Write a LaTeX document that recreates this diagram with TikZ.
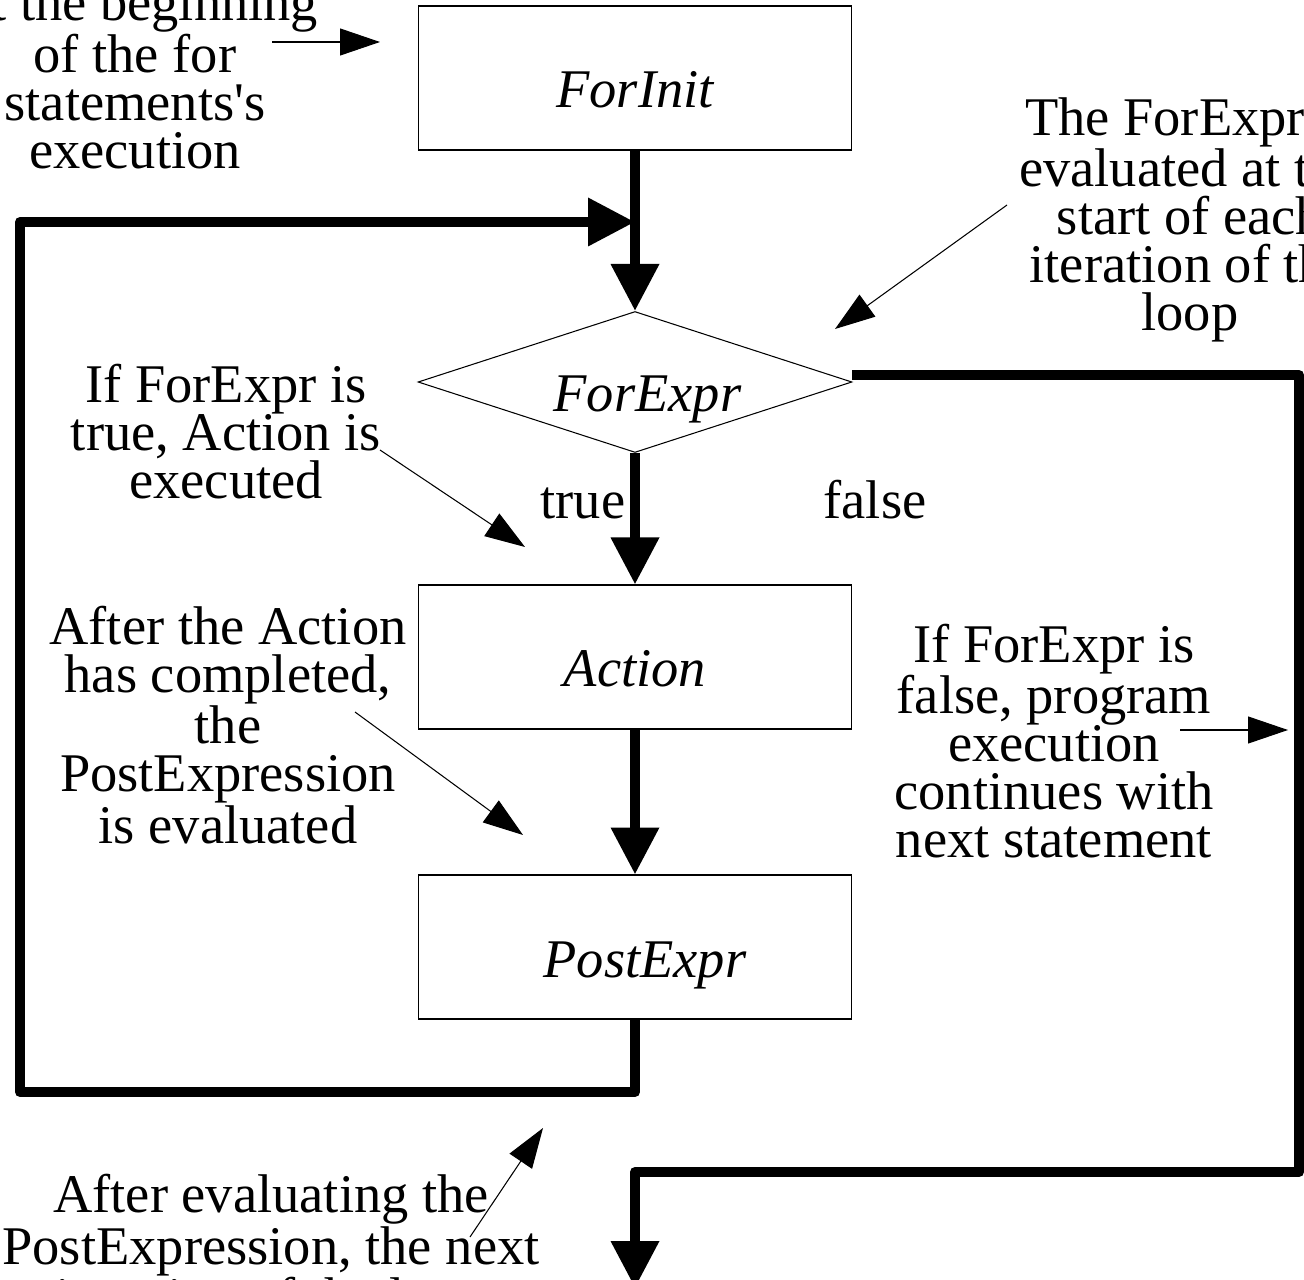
\documentclass[tikz,border=0pt]{standalone}
\usepackage{fontspec}
\setmainfont{Liberation Serif}
\usetikzlibrary{shapes.geometric,arrows.meta}
\newcommand{\notefont}{\fontsize{31}{27.3}\selectfont}

\begin{document}
\begin{tikzpicture}[
    x=0.02cm, y=-0.02cm,
    box/.style={draw, line width=0.6pt, minimum width=8.68cm, minimum height=2.88cm, inner sep=0pt, text height=1.2cm, text depth=0pt, font=\notefont\itshape},
    decision/.style={draw, diamond, aspect=3.08, line width=0.6pt, minimum width=8.68cm, minimum height=2.82cm, inner sep=0pt, text height=1.2cm, text depth=0pt, font=\notefont\itshape},
    note/.style={align=center, inner sep=0pt, font=\notefont},
    arr/.style={-{Triangle[length=0.94cm, width=0.92cm]}, line width=0.2cm, line join=round},
    pointer/.style={-{Triangle[length=0.8cm, width=0.54cm]}, line width=0.6pt}
]
\path[use as bounding box, clip] (0,0) rectangle (1304,1280);

\node[box]      (forinit)  at (635,78)  {ForInit};
\node[decision] (forexpr)  at (635,382) {\kern0.5cm ForExpr};
\node[box]      (action)   at (635,657) {Action};
\node[box]      (postexpr) at (635,947) {\kern0.4cm PostExpr};

\node[note] (initnote)   at (135,76)   {At the beginning\\of the for\\statements\textquotesingle s\\execution};
\node[note] (exprnote)   at (1190,220) {The ForExpr is\\evaluated at the\\start of each\\iteration of the\\loop};
\node[note] (truenote)   at (226,432)  {If ForExpr is\\true, Action is\\executed};
\node[note] (actionnote) at (228,725)  {After the Action\\has completed,\\the\\PostExpression\\is evaluated};
\node[note] (falsenote)  at (1054,741) {If ForExpr is\\false, program\\execution\\continues with\\next statement};
\node[note] (postnote)   at (271,1251) {After evaluating the\\PostExpression, the next\\iteration of the loop};

\node[font=\notefont, anchor=base] (truelbl)  at (583,518) {true};
\node[font=\notefont, anchor=base] (falselbl) at (875,518) {false};

% loop corners and free ends
\coordinate (loopleft)  at (20,1092);
\coordinate (looptop)   at (20,222);
\coordinate (exitright) at (1299,375);
\coordinate (exitturn)  at (635,1172);
\coordinate (exitend)   at (635,1288);

\draw[arr] (forinit) -- (forexpr);
\draw[arr] (forexpr) -- (action);
\draw[arr] (action) -- (postexpr);
\draw[arr] (postexpr.south) |- (loopleft) -- (looptop) -- (forinit |- looptop);
\draw[arr] (forexpr.east |- exitright) -- (exitright) |- (exitturn) -- (exitend);

% pointers from the notes
\coordinate (initfrom)   at (272,42);
\coordinate (initto)     at (380,42);
\coordinate (exprfrom)   at (1007,205);
\coordinate (exprto)     at (835,329);
\coordinate (truefrom)   at (380,450);
\coordinate (trueto)     at (525,547);
\coordinate (actionfrom) at (355,712);
\coordinate (actionto)   at (523,835);
\coordinate (falsefrom)  at (1180,730);
\coordinate (falseto)    at (1288,730);
\coordinate (postfrom)   at (470,1237);
\coordinate (postto)     at (543,1128);

\draw[pointer] (initfrom) -- (initto);
\draw[pointer] (exprfrom) -- (exprto);
\draw[pointer] (truefrom) -- (trueto);
\draw[pointer] (actionfrom) -- (actionto);
\draw[pointer] (falsefrom) -- (falseto);
\draw[pointer] (postfrom) -- (postto);
\end{tikzpicture}
\end{document}
